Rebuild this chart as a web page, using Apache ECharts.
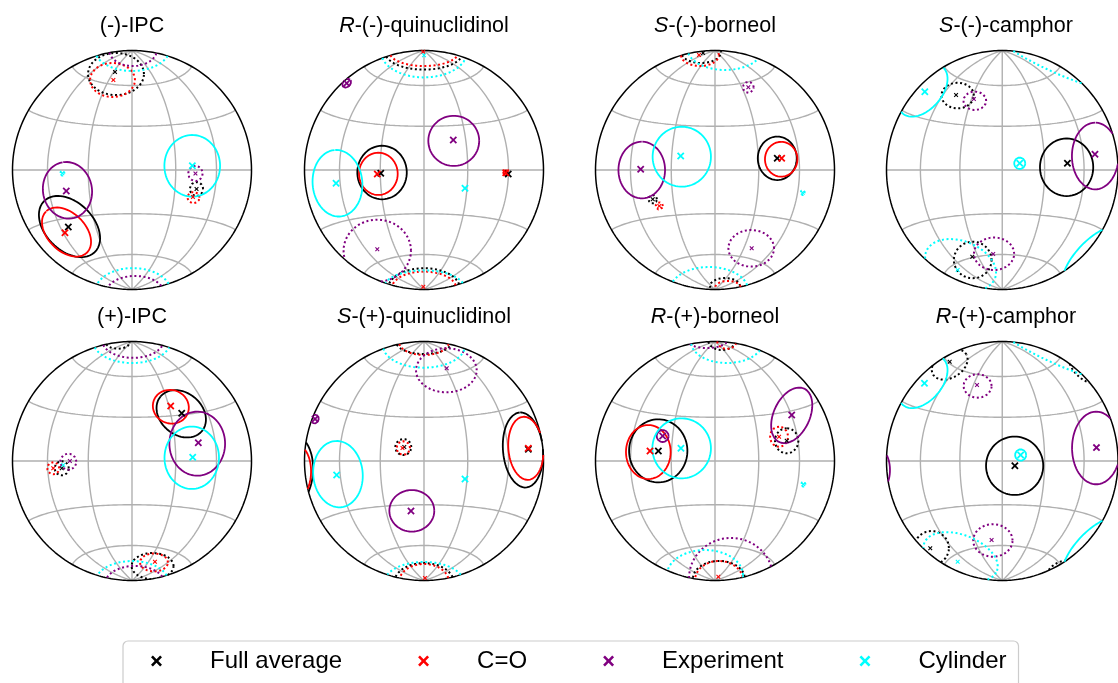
<!DOCTYPE html>
<html><head><meta charset="utf-8">
<script src="https://cdn.jsdelivr.net/npm/echarts@6/dist/echarts.min.js"></script>
<style>html,body{margin:0;padding:0;background:#fff}#c{width:1118px;height:683px}</style>
</head><body><div id="c"></div>
<script>
// ---------- DATA (projected unit-disk coordinates, Lambert equal-area view) ----------
const panelPrefix = ['', 'R', 'S', 'S', '', 'S', 'R', 'R'];
const panelNames = ['(-)-IPC', '-(-)-quinuclidinol', '-(-)-borneol', '-(-)-camphor',
                    '(+)-IPC', '-(+)-quinuclidinol', '-(+)-borneol', '-(+)-camphor'];
const seriesNames = ['Full average', 'C=O', 'Experiment', 'Cylinder'];
const meridianLons = [-60, -30, 0, 30, 60];
const parallelLats = [-60, -30, 0, 30, 60];

// rings: [panel, cx, cy, a, b, angleDeg]
const fullAvgRings = [
  [0, -0.523, -0.473, 0.301, 0.201, 135], [1, -0.351, -0.021, 0.224, 0.207, 90],
  [2, 0.521, 0.098, 0.182, 0.163, 90], [3, 0.556, 0.023, 0.241, 0.230, 90],
  [4, 0.412, 0.395, 0.226, 0.176, 140], [5, 0.828, 0.092, 0.315, 0.167, 95],
  [5, -1.121, -0.092, 0.318, 0.192, 85], [6, -0.475, 0.085, 0.264, 0.244, 90],
  [7, 0.107, -0.040, 0.247, 0.244, 0]
];
const fullAvgDotted = [
  [0, 0.540, -0.159, 0.055, 0.058, 0], [0, -0.134, 0.803, 0.234, 0.176, 0],
  [1, 0, 0.99, 0.33, 0.15, 0], [1, 0, -0.99, 0.30, 0.168, 0],
  [2, -0.521, -0.245, 0.035, 0.035, 0], [2, -0.117, 0.987, 0.167, 0.092, 0], [2, 0.084, -0.971, 0.126, 0.067, 0],
  [3, -0.385, 0.623, 0.14, 0.107, 0], [3, -0.255, -0.753, 0.163, 0.153, 0],
  [4, -0.588, -0.061, 0.059, 0.059, 0], [4, -0.12, 0.99, 0.1, 0.05, 0], [4, 0.172, -0.879, 0.176, 0.109, 0],
  [5, -0.173, 0.117, 0.067, 0.067, 0], [5, 0, 0.996, 0.234, 0.1, 0], [5, 0, -1.021, 0.251, 0.167, 0],
  [6, 0.6, 0.169, 0.105, 0.098, 90], [6, 0.059, 1.013, 0.117, 0.084, 0], [6, 0.033, -0.987, 0.218, 0.151, 0],
  [7, -0.454, 0.808, 0.167, 0.111, 30], [7, 0.70, 0.78, 0.16, 0.08, -45],
  [7, -0.611, -0.728, 0.15, 0.142, 0], [7, 0.499, -0.92, 0.13, 0.07, 28]
];
const fullAvgMarks = [
  [0, -0.533, -0.477], [1, -0.362, -0.028], [1, 0.705, -0.033], [2, 0.521, 0.098],
  [3, 0.563, 0.056], [4, 0.416, 0.399], [5, 0.873, 0.098], [6, -0.474, 0.084], [7, 0.109, -0.039]
];
const fullAvgMinor = [
  [0, 0.540, -0.159], [0, -0.142, 0.820], [2, -0.521, -0.245], [2, -0.1, 0.979],
  [3, -0.399, 0.628], [3, -0.259, -0.726], [4, -0.588, -0.061], [5, -0.165, 0.117],
  [6, 0.6, 0.169], [7, -0.454, 0.830], [7, -0.622, -0.731]
];

const coRings = [
  [0, -0.548, -0.519, 0.243, 0.159, 135], [1, -0.382, -0.032, 0.177, 0.162, 90],
  [1, 0.684, -0.023, 0.022, 0.022, 0], [2, 0.554, 0.090, 0.146, 0.136, 90],
  [4, 0.325, 0.454, 0.152, 0.140, 160], [5, 0.852, 0.106, 0.265, 0.146, 95],
  [5, -1.105, -0.109, 0.259, 0.159, 85], [6, -0.558, 0.075, 0.226, 0.187, 90]
];
const coDotted = [
  [0, 0.515, -0.231, 0.05, 0.046, 0], [0, -0.163, 0.753, 0.188, 0.142, 0],
  [1, 0, 0.987, 0.29, 0.117, 0], [1, 0, -0.99, 0.27, 0.14, 0],
  [2, -0.466, -0.301, 0.03, 0.03, 0], [2, -0.126, 0.962, 0.159, 0.092, 0], [2, 0.109, -0.987, 0.109, 0.059, 0],
  [4, -0.659, -0.061, 0.05, 0.05, 0], [4, 0.184, -0.849, 0.117, 0.075, 0],
  [5, -0.173, 0.109, 0.056, 0.056, 0], [5, 0, 0.996, 0.21, 0.109, 0], [5, 0, -1.013, 0.209, 0.151, 0],
  [6, 0.536, 0.203, 0.084, 0.075, 90], [6, 0.1, 1.013, 0.084, 0.075, 0], [6, 0.033, -0.996, 0.2, 0.159, 0]
];
const coMarks = [
  [0, -0.561, -0.525], [1, -0.391, -0.033], [1, 0.684, -0.023], [2, 0.558, 0.098],
  [4, 0.324, 0.460], [5, 0.873, 0.106], [6, -0.544, 0.084]
];
const coMinor = [
  [0, 0.510, -0.226], [0, -0.156, 0.753], [1, -0.006, 0.99], [1, -0.006, -0.977],
  [2, -0.466, -0.301], [2, -0.134, 0.962], [4, -0.659, -0.061], [4, 0.192, -0.843],
  [5, -0.18, 0.109], [5, 0.008, -0.979], [6, 0.536, 0.203], [6, 0.028, -0.968]
];

const expRings = [
  [0, -0.540, -0.170, 0.238, 0.205, 100], [1, 0.249, 0.244, 0.213, 0.21, 0],
  [1, -0.647, 0.726, 0.042, 0.03, 45], [2, -0.613, 0, 0.237, 0.195, 90],
  [3, 0.803, 0.117, 0.279, 0.201, 90], [4, 0.546, 0.145, 0.268, 0.233, 90],
  [5, -0.102, -0.417, 0.188, 0.174, 0], [5, -0.912, 0.351, 0.038, 0.03, 70],
  [6, -0.438, 0.209, 0.05, 0.05, 0], [6, 0.642, 0.382, 0.247, 0.151, 65],
  [7, 0.812, 0.109, 0.304, 0.209, 90], [7, -1.096, -0.075, 0.2, 0.126, 90]
];
const expDotted = [
  [0, 0.531, -0.029, 0.063, 0.06, 90], [0, 0.008, 1.004, 0.2, 0.134, 0], [0, 0.025, -1.029, 0.243, 0.142, 0],
  [1, -0.391, -0.675, 0.282, 0.259, 0],
  [2, 0.279, 0.692, 0.045, 0.045, 0], [2, 0.303, -0.655, 0.191, 0.153, 0],
  [3, -0.237, 0.579, 0.098, 0.077, 0], [3, -0.071, -0.701, 0.174, 0.136, 0],
  [4, -0.533, -0.006, 0.067, 0.067, 0], [4, 0.008, 1.013, 0.26, 0.15, 0], [4, 0.025, -1.029, 0.251, 0.151, 0],
  [5, 0.187, 0.759, 0.254, 0.184, 0],
  [6, -0.067, 1.029, 0.184, 0.084, 0], [6, 0.134, -0.979, 0.351, 0.335, 0],
  [7, -0.213, 0.628, 0.121, 0.098, 0], [7, -0.081, -0.665, 0.17, 0.136, 0]
];
const expMarks = [
  [0, -0.550, -0.176], [1, 0.245, 0.251], [1, -0.647, 0.726], [2, -0.622, 0.006],
  [3, 0.801, 0.131], [4, 0.555, 0.153], [5, -0.109, -0.418], [5, -0.912, 0.351],
  [6, -0.438, 0.209], [6, 0.642, 0.385], [7, 0.814, 0.112]
];
const expMinor = [
  [0, 0.531, -0.03], [1, -0.391, -0.664], [2, 0.279, 0.692], [2, 0.307, -0.655],
  [3, -0.245, 0.594], [3, -0.078, -0.703], [4, -0.52, 0.0], [5, 0.190, 0.776],
  [7, -0.218, 0.636], [7, -0.092, -0.661]
];

const cylRings = [
  [0, 0.504, 0.035, 0.258, 0.233, 90], [1, -0.724, -0.111, 0.279, 0.208, 95],
  [2, -0.278, 0.111, 0.251, 0.244, 90], [3, 0.151, 0.056, 0.048, 0.048, 0],
  [3, -0.685, 0.665, 0.26, 0.16, 47], [3, 0.776, -0.739, 0.34, 0.14, 46],
  [4, 0.5, 0.027, 0.261, 0.228, 90], [5, -0.720, -0.110, 0.278, 0.207, 95],
  [6, -0.279, 0.106, 0.251, 0.245, 90], [7, 0.159, 0.050, 0.048, 0.048, 0],
  [7, -0.685, 0.662, 0.26, 0.16, 47], [7, 0.776, -0.739, 0.34, 0.14, 46]
];
const cylDotted = [
  [0, -0.583, -0.028, 0.02, 0.02, 0], [0, 0, 1.021, 0.318, 0.192, 0], [0, 0.008, -1.021, 0.318, 0.2, 0],
  [1, 0, 0.99, 0.36, 0.215, 0], [1, 0, -0.99, 0.34, 0.15, 0],
  [2, 0.734, -0.190, 0.02, 0.02, 0], [2, 0.084, 1.021, 0.318, 0.184, 0], [2, -0.050, -1.004, 0.326, 0.192, 0],
  [3, 0.450, 0.925, 0.586, 0.1, -24], [3, -0.360, -0.795, 0.318, 0.2, -20],
  [4, 0, 1.004, 0.326, 0.184, 0], [4, 0, -1.021, 0.31, 0.184, 0],
  [5, 0, 0.965, 0.343, 0.184, 0], [5, 0, -1.021, 0.335, 0.176, 0],
  [6, 0.739, -0.195, 0.02, 0.02, 0], [6, 0.1, 0.996, 0.301, 0.176, 0], [6, -0.084, -0.954, 0.318, 0.209, 0],
  [7, 0.450, 0.925, 0.586, 0.1, -24], [7, -0.360, -0.803, 0.335, 0.184, -20]
];
const cylMarks = [
  [0, 0.505, 0.036], [1, -0.736, -0.111], [1, 0.343, -0.153], [2, -0.287, 0.117],
  [3, 0.151, 0.056], [3, -0.669, 0.655], [4, 0.508, 0.031], [5, -0.731, -0.117],
  [5, 0.343, -0.151], [6, -0.285, 0.106], [7, 0.159, 0.050], [7, -0.672, 0.650]
];
const cylMinor = [
  [0, -0.583, -0.028], [1, 0, 0.96], [2, 0.734, -0.190], [3, -0.385, -0.837],
  [4, -0.575, -0.033], [6, 0.739, -0.195], [7, -0.385, -0.843]
];

// ---------- LAYOUT / STYLE ----------
const FONT = '"Liberation Sans", Arial, sans-serif';
const R = 119.5;
const centers = [[132,170],[424,170],[715,170],[1006,170],[132,461],[424,461],[715,461],[1006,461]];
const colors = ['#000000', '#ff0000', '#800080', '#00ffff'];
const groups = [
  [fullAvgRings, fullAvgDotted, fullAvgMarks, fullAvgMinor],
  [coRings, coDotted, coMarks, coMinor],
  [expRings, expDotted, expMarks, expMinor],
  [cylRings, cylDotted, cylMarks, cylMinor]
];
const XPATH = 'path://M1.7,0 L5,3.3 L8.3,0 L10,1.7 L6.7,5 L10,8.3 L8.3,10 L5,6.7 L1.7,10 L0,8.3 L3.3,5 L0,1.7 Z';
const GAP = ['-', '-'];
const D = Math.PI / 180;

function lambert(lon, lat) {
  const l = lon * D, p = lat * D;
  const k = 1 / Math.sqrt(1 + Math.cos(p) * Math.cos(l));
  return [k * Math.cos(p) * Math.sin(l), k * Math.sin(p)];
}
function graticule() {
  const out = [];
  meridianLons.forEach(lon => { for (let lat = -90; lat <= 90; lat += 1) out.push(lambert(lon, lat)); out.push(GAP); });
  parallelLats.forEach(lat => { for (let lon = -90; lon <= 90; lon += 1) out.push(lambert(lon, lat)); out.push(GAP); });
  return out;
}
function boundary() {
  const out = [];
  for (let k = 0; k <= 360; k++) out.push([Math.cos(k * D), Math.sin(k * D)]);
  return out;
}
function ellipse(cx, cy, a, b, th) {
  const c = Math.cos(th * D), s = Math.sin(th * D);
  const P = t => { const x0 = a * Math.cos(t), y0 = b * Math.sin(t); return [cx + x0 * c - y0 * s, cy + x0 * s + y0 * c]; };
  const inside = p => p[0] * p[0] + p[1] * p[1] <= 1;
  const out = [], N = 240;
  let prev = null, prevT = 0;
  for (let k = 0; k <= N; k++) {
    const t = 2 * Math.PI * k / N, p = P(t), ins = inside(p);
    if (prev) {
      const pin = inside(prev);
      if (pin !== ins) {
        let lo = prevT, hi = t;
        for (let j = 0; j < 30; j++) { const m = (lo + hi) / 2; if (inside(P(m)) === pin) lo = m; else hi = m; }
        const q = P((lo + hi) / 2);
        out.push(q);
        if (pin) out.push(GAP);
      }
    }
    if (ins) out.push(p);
    prev = p; prevT = t;
  }
  out.push(GAP);
  return out;
}
function ringData(list, i) {
  let out = [];
  list.filter(r => r[0] === i).forEach(r => { out = out.concat(ellipse(r[1], r[2], r[3], r[4], r[5])); });
  return out;
}

const grid = [], xAxis = [], yAxis = [], series = [], title = [];
centers.forEach(([cx, cy], i) => {
  grid.push({ left: cx - R, top: cy - R, width: 2 * R, height: 2 * R });
  xAxis.push({ type: 'value', gridIndex: i, min: -1, max: 1, show: false });
  yAxis.push({ type: 'value', gridIndex: i, min: -1, max: 1, show: false });
  title.push({
    text: panelPrefix[i] ? '{i|' + panelPrefix[i] + '}' + panelNames[i] : panelNames[i],
    left: cx, top: cy - 155, textAlign: 'center', padding: 0,
    textStyle: { fontSize: 21.5, fontWeight: 'normal', fontFamily: FONT, color: '#000',
      rich: { i: { fontStyle: 'italic', fontSize: 21.5, fontFamily: FONT, color: '#000' } } }
  });
  const base = { xAxisIndex: i, yAxisIndex: i, clip: false, silent: true, animation: false };
  series.push(Object.assign({ type: 'line', name: 'grid' + i, data: graticule(), showSymbol: false, connectNulls: false, z: 1,
    lineStyle: { color: '#b0b0b0', width: 1.4 } }, base));
  series.push(Object.assign({ type: 'line', name: 'frame' + i, data: boundary(), showSymbol: false, z: 2,
    lineStyle: { color: '#000000', width: 1.5 } }, base));
  groups.forEach((g, gi) => {
    const col = colors[gi];
    series.push(Object.assign({ type: 'line', name: seriesNames[gi] + ' ring', data: ringData(g[0], i), showSymbol: false,
      connectNulls: false, z: 4, itemStyle: { color: col }, lineStyle: { color: col, width: 1.8 } }, base));
    series.push(Object.assign({ type: 'line', name: seriesNames[gi] + ' dotted', data: ringData(g[1], i), showSymbol: false,
      connectNulls: false, z: 3, itemStyle: { color: col }, lineStyle: { color: col, width: 2, type: [2, 2.6], cap: 'butt' } }, base));
    series.push(Object.assign({ type: 'scatter', name: seriesNames[gi], symbol: XPATH, symbolSize: 7.5, z: 6,
      itemStyle: { color: col, opacity: 1 }, data: g[2].filter(m => m[0] === i).map(m => [m[1], m[2]]) }, base));
    series.push(Object.assign({ type: 'scatter', name: seriesNames[gi], symbol: XPATH, symbolSize: 4.5, z: 5,
      itemStyle: { color: col, opacity: 1 }, data: g[3].filter(m => m[0] === i).map(m => [m[1], m[2]]) }, base));
  });
});

const chart = echarts.init(document.getElementById('c'), null, { renderer: 'canvas' });
chart.setOption({
  backgroundColor: '#ffffff',
  animation: false,
  title, grid, xAxis, yAxis, series,
  legend: {
    data: seriesNames.map(n => ({ name: n, icon: XPATH, itemStyle: { opacity: 1 } })),
    left: 123, top: 641, itemWidth: 11, itemHeight: 11, itemGap: 76,
    padding: [8, 12, 24, 28], borderColor: '#cccccc', borderWidth: 1.2, borderRadius: 5,
    selectedMode: false,
    formatter: n => '{t|' + n + '}',
    textStyle: { rich: { t: { fontSize: 24, fontFamily: FONT, color: '#000', padding: [0, 0, 0, 43] } } }
  }
});
</script></body></html>
